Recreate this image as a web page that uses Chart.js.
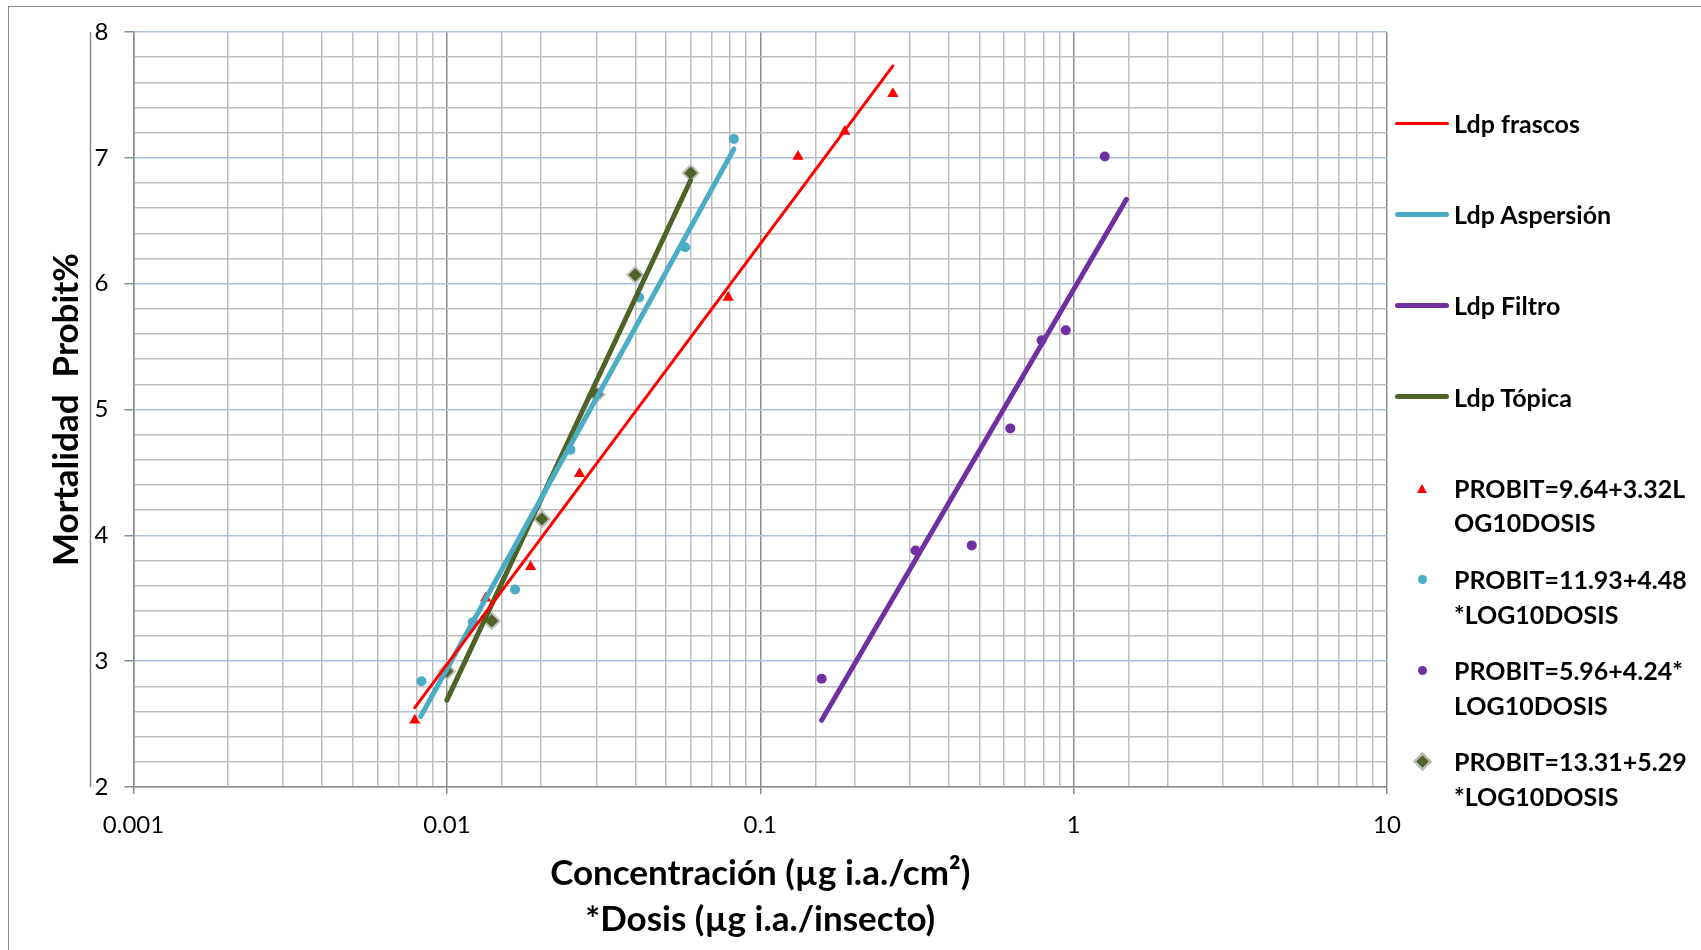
<!DOCTYPE html>
<html>
<head>
<meta charset="utf-8">
<script src="https://cdn.jsdelivr.net/npm/chart.js@4.4.1/dist/chart.umd.min.js"></script>
<style>
  html, body { margin: 0; padding: 0; background: #fff; }
  #wrap { position: relative; width: 1701px; height: 950px; overflow: hidden; }
  #frame { position: absolute; left: 8px; top: 6px; width: 1800px; height: 1000px;
           border-left: 1.5px solid #8c8c8c; border-top: 1.5px solid #8c8c8c; pointer-events: none; }
  #leyenda { position: absolute; left: 1395px; top: 106px; font-family: Lato, sans-serif;
             font-weight: bold; font-size: 25px; color: #000; }
  .item { height: 91.2px; display: flex; align-items: flex-start; }
  .marca { width: 54px; height: 34.7px; display: flex; align-items: center; justify-content: center; flex: none; }
  .texto { margin-left: 5px; line-height: 34.7px; white-space: nowrap; }
</style>
</head>
<body>
<div id="wrap">
  <canvas id="probit" width="1701" height="950"></canvas>
  <div id="frame"></div>
  <div id="leyenda"></div>
</div>
<script>
// puntos observados: dosis (ug i.a.) y probit de mortalidad
var frascosDosis = [0.0079, 0.0133, 0.0185, 0.0265, 0.079, 0.132, 0.186, 0.265];
var frascosProbit = [2.53, 3.50, 3.75, 4.49, 5.89, 7.01, 7.21, 7.51];

var aspersionDosis = [0.0083, 0.0121, 0.0165, 0.0248, 0.0411, 0.0576, 0.0824];
var aspersionProbit = [2.84, 3.31, 3.57, 4.68, 5.89, 6.29, 7.15];

var filtroDosis = [0.157, 0.313, 0.473, 0.628, 0.79, 0.944, 1.257];
var filtroProbit = [2.86, 3.88, 3.92, 4.85, 5.55, 5.63, 7.01];

var topicaDosis = [0.01, 0.0139, 0.0201, 0.03, 0.0399, 0.06];
var topicaProbit = [2.92, 3.32, 4.13, 5.12, 6.07, 6.88];

// extremos de las rectas Ldp
var ldpFrascosX = [0.0079, 0.265];
var ldpFrascosY = [2.63, 7.73];
var ldpAspersionX = [0.00825, 0.0824];
var ldpAspersionY = [2.56, 7.07];
var ldpFiltroX = [0.157, 1.474];
var ldpFiltroY = [2.53, 6.67];
var ldpTopicaX = [0.01, 0.0599];
var ldpTopicaY = [2.69, 6.82];

var ldpNombres = ['Ldp frascos', 'Ldp Aspersión', 'Ldp Filtro', 'Ldp Tópica'];
var probitNombres = [
  ['PROBIT=9.64+3.32L', 'OG10DOSIS'],
  ['PROBIT=11.93+4.48', '*LOG10DOSIS'],
  ['PROBIT=5.96+4.24*', 'LOG10DOSIS'],
  ['PROBIT=13.31+5.29', '*LOG10DOSIS']
];

var xTickLabels = ['0.001', '0.01', '0.1', '1', '10'];
var yTickLabels = ['2', '3', '4', '5', '6', '7', '8'];

function puntos(xs, ys) {
  return xs.map(function (x, i) { return { x: x, y: ys[i] }; });
}
function esDecada(v) {
  var l = Math.log10(v);
  return Math.abs(l - Math.round(l)) < 1e-6;
}
function esEntero(v) {
  return Math.abs(v - Math.round(v)) < 1e-6;
}

function recta(nombre, xs, ys, color, ancho) {
  return {
    label: nombre, data: puntos(xs, ys), showLine: true, pointRadius: 0,
    borderColor: color, backgroundColor: color, borderWidth: ancho,
    borderCapStyle: 'round', order: 0
  };
}
function serie(nombre, xs, ys, estilo, radio, color, borde, anchoBorde) {
  return {
    label: nombre.join(''), data: puntos(xs, ys), showLine: false,
    pointStyle: estilo, pointRadius: radio, pointHoverRadius: radio,
    pointBackgroundColor: color, pointBorderColor: borde, pointBorderWidth: anchoBorde,
    order: 1
  };
}

var datos = {
  datasets: [
    recta(ldpNombres[0], ldpFrascosX, ldpFrascosY, '#ff0000', 3),
    recta(ldpNombres[1], ldpAspersionX, ldpAspersionY, '#4bacc6', 5),
    recta(ldpNombres[2], ldpFiltroX, ldpFiltroY, '#7030a0', 5),
    recta(ldpNombres[3], ldpTopicaX, ldpTopicaY, '#4f6228', 5),
    serie(probitNombres[0], frascosDosis, frascosProbit, 'triangle', 6.5, '#ff0000', '#ff0000', 0),
    serie(probitNombres[1], aspersionDosis, aspersionProbit, 'circle', 5, '#4bacc6', '#4bacc6', 0),
    serie(probitNombres[2], filtroDosis, filtroProbit, 'circle', 5, '#7030a0', '#7030a0', 0),
    serie(probitNombres[3], topicaDosis, topicaProbit, 'rectRot', 8, '#4f6228', '#bfbfbf', 2)
  ]
};

// linea vertical gris a la izquierda de las etiquetas del eje Y
var ejeExtra = {
  id: 'ejeExtra',
  afterDraw: function (chart) {
    var a = chart.chartArea, c = chart.ctx;
    c.save();
    c.strokeStyle = '#8c8c8c';
    c.lineWidth = 1.5;
    c.beginPath();
    c.moveTo(a.left - 43, a.top);
    c.lineTo(a.left - 43, a.bottom);
    c.stroke();
    c.restore();
  }
};

var config = {
  type: 'scatter',
  data: datos,
  plugins: [ejeExtra],
  options: {
    responsive: false,
    animation: false,
    layout: { padding: { left: 0, top: 32, right: 314, bottom: 0 } },
    plugins: { legend: { display: false } },
    scales: {
      x: {
        type: 'logarithmic', min: 0.001, max: 10,
        afterFit: function (s) { s.height = 163; },
        ticks: {
          autoSkip: false, maxRotation: 0, padding: 17, color: '#000',
          font: { family: 'Lato', size: 24 },
          callback: function (v) {
            if (!esDecada(v)) return '';
            return xTickLabels[Math.round(Math.log10(v)) + 3];
          }
        },
        grid: {
          lineWidth: 1.5, tickLength: 7,
          color: function (ctx) { return ctx.tick && esDecada(ctx.tick.value) ? '#8c8c8c' : '#bdbdbd'; },
          tickColor: function (ctx) { return ctx.tick && esDecada(ctx.tick.value) ? '#8c8c8c' : 'rgba(0,0,0,0)'; }
        },
        border: { color: '#8c8c8c', width: 1.5 },
        title: {
          display: true, color: '#000',
          text: ['Concentración (µg i.a./cm²)', '*Dosis (µg i.a./insecto)'],
          font: { family: 'Lato', size: 35, weight: 'bold', lineHeight: 1.3 },
          padding: { top: 0, bottom: 8 }
        }
      },
      y: {
        type: 'linear', min: 2, max: 8,
        afterFit: function (s) { s.width = 133.5; },
        ticks: {
          stepSize: 0.2, autoSkip: false, padding: 16, color: '#000',
          font: { family: 'Lato', size: 24 },
          callback: function (v) {
            if (!esEntero(v)) return '';
            return yTickLabels[Math.round(v) - 2];
          }
        },
        grid: {
          lineWidth: 1.5, tickLength: 9,
          color: function (ctx) { return ctx.tick && esEntero(ctx.tick.value) ? '#a9c1e0' : '#bdbdbd'; },
          tickColor: function (ctx) { return ctx.tick && esEntero(ctx.tick.value) ? '#8c8c8c' : 'rgba(0,0,0,0)'; }
        },
        border: { color: '#8c8c8c', width: 1.5 },
        title: {
          display: true, color: '#000', text: 'Mortalidad  Probit%',
          font: { family: 'Lato', size: 35, weight: 'bold', lineHeight: 1.2 },
          padding: { top: 46, bottom: 0 }
        }
      }
    }
  }
};

var myChartProbit = new Chart(document.getElementById('probit'), config);

// leyenda a la derecha, armada con los datasets del grafico
var leyenda = document.getElementById('leyenda');
myChartProbit.data.datasets.forEach(function (ds, i) {
  var item = document.createElement('div');
  item.className = 'item';
  var marca = document.createElement('div');
  marca.className = 'marca';
  var m = document.createElement('div');
  var texto = document.createElement('div');
  texto.className = 'texto';
  if (ds.showLine) {
    m.style.width = '54px';
    m.style.height = ds.borderWidth + 'px';
    m.style.borderRadius = ds.borderWidth + 'px';
    m.style.background = ds.borderColor;
    texto.textContent = ds.label;
  } else {
    var k = i - 4;
    if (ds.pointStyle === 'triangle') {
      m.style.width = '0'; m.style.height = '0';
      m.style.borderLeft = '5px solid transparent';
      m.style.borderRight = '5px solid transparent';
      m.style.borderBottom = '9px solid ' + ds.pointBackgroundColor;
    } else if (ds.pointStyle === 'circle') {
      m.style.width = '9px'; m.style.height = '9px';
      m.style.borderRadius = '50%';
      m.style.background = ds.pointBackgroundColor;
    } else {
      m.style.width = '9px'; m.style.height = '9px';
      m.style.background = ds.pointBackgroundColor;
      m.style.border = '2px solid ' + ds.pointBorderColor;
      m.style.transform = 'rotate(45deg)';
    }
    texto.innerHTML = probitNombres[k].join('<br>');
  }
  marca.appendChild(m);
  item.appendChild(marca);
  item.appendChild(texto);
  leyenda.appendChild(item);
});
</script>
</body>
</html>
